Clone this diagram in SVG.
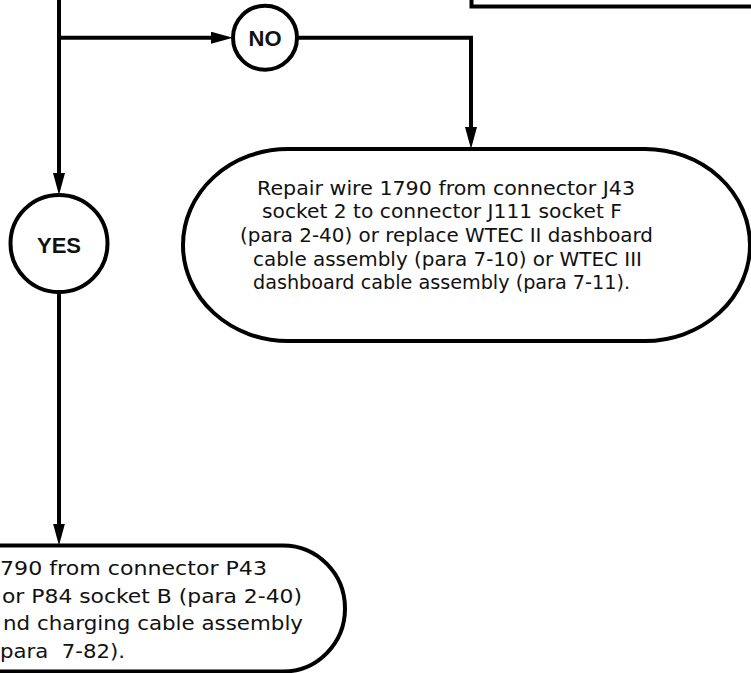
<svg xmlns="http://www.w3.org/2000/svg" width="751" height="673" viewBox="0 0 751 673">
<style>
.ln{fill:none;stroke:#000;stroke-width:4}
.shape{fill:#fff;stroke:#000;stroke-width:4}
.lbl{font-family:"Liberation Sans",Arial,sans-serif;font-weight:bold;font-size:22px;text-anchor:middle;fill:#111}
.txt{font-family:"DejaVu Sans","Liberation Sans",sans-serif;font-size:20px;fill:#111}
.mid{text-anchor:middle}
.end{text-anchor:end}
</style>
<defs>
<marker id="ah" markerUnits="userSpaceOnUse" markerWidth="22" markerHeight="12" refX="10" refY="6" orient="auto">
<path d="M0,0 L22,6 L0,12 z" fill="#000"/>
</marker>
</defs>
<g id="connectors">
<path class="ln" d="M59,0 V183" marker-end="url(#ah)"/>
<path class="ln" d="M59,37.7 H221" marker-end="url(#ah)"/>
<path class="ln" d="M297,37.7 H471 V137" marker-end="url(#ah)"/>
<path class="ln" d="M59,292 V533.5" marker-end="url(#ah)"/>
</g>
<g id="top-box">
<path class="ln" d="M471.5,-5 V6.5 H760"/>
</g>
<g id="no">
<circle class="shape" cx="265" cy="37.7" r="32"/>
<text class="lbl" x="265" y="45.5">NO</text>
</g>
<g id="yes">
<circle class="shape" cx="59" cy="243.5" r="48.5"/>
<text class="lbl" x="59" y="252.5">YES</text>
</g>
<g id="repair-j43">
<path class="shape" d="M288,149 H645 A105,96 0 0 1 645,341 H288 A105,96 0 0 1 288,149 Z"/>
<text class="txt mid" x="446" y="194.5" textLength="378" lengthAdjust="spacingAndGlyphs">Repair wire 1790 from connector J43</text>
<text class="txt mid" x="442" y="218.2" textLength="360" lengthAdjust="spacingAndGlyphs">socket 2 to connector J111 socket F</text>
<text class="txt mid" x="446.5" y="241.9" textLength="413" lengthAdjust="spacingAndGlyphs">(para 2-40) or replace WTEC II dashboard</text>
<text class="txt mid" x="447.5" y="265.6" textLength="389" lengthAdjust="spacingAndGlyphs">cable assembly (para 7-10) or WTEC III</text>
<text class="txt mid" x="441.5" y="289.3" textLength="377" lengthAdjust="spacingAndGlyphs">dashboard cable assembly (para 7-11).</text>
</g>
<g id="repair-p43">
<path class="shape" d="M-10,545.5 H283 A62,63 0 0 1 283,671.5 H-10 Z"/>
<text class="txt end" x="267" y="575" textLength="267" lengthAdjust="spacingAndGlyphs">790 from connector P43</text>
<text class="txt end" x="302" y="602.7" textLength="300" lengthAdjust="spacingAndGlyphs">or P84 socket B (para 2-40)</text>
<text class="txt end" x="303" y="630.4" textLength="300" lengthAdjust="spacingAndGlyphs">nd charging cable assembly</text>
<text class="txt end" x="125" y="658" textLength="125" lengthAdjust="spacingAndGlyphs" style="white-space:pre">para  7-82).</text>
</g>
</svg>
